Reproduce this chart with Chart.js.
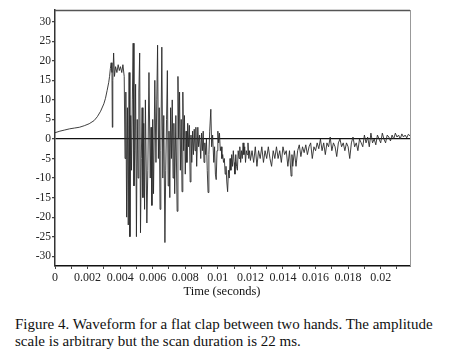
<!DOCTYPE html>
<html>
<head>
<meta charset="utf-8">
<script src="https://cdn.jsdelivr.net/npm/chart.js@4.4.1/dist/chart.umd.min.js"></script>
<style>
  html, body { margin: 0; padding: 0; background: #fff; }
  #wrap { position: relative; width: 450px; height: 364px; overflow: hidden; }
  #chart { position: absolute; left: 0; top: 0; }
  .cap { position: absolute; left: 15px; font-family: "Liberation Serif", "Times New Roman", serif; font-size: 15px; color: #111; white-space: nowrap; line-height: 17px; }
  #xtitle { position: absolute; left: 162px; width: 120px; top: 284px; text-align: center; font-family: "Liberation Serif", "Times New Roman", serif; font-size: 12.5px; color: #111; line-height: 14px; }
</style>
</head>
<body>
<div id="wrap">
  <canvas id="chart" width="450" height="300"></canvas>
  <div id="xtitle">Time (seconds)</div>
  <div class="cap" style="top:316px">Figure 4. Waveform for a flat clap between two hands. The amplitude</div>
  <div class="cap" style="top:333px">scale is arbitrary but the scan duration is 22 ms.</div>
</div>
<script>
// time in milliseconds, amplitude
const timeMs = [
  0, 0.3, 0.6, 0.9, 1.2, 1.5, 1.8, 2.1, 2.4, 2.6, 2.8, 3.0, 3.1, 3.2, 3.3, 3.35, 3.4, 3.45,
  3.5, 3.52, 3.55, 3.6, 3.65, 3.72, 3.8, 3.88, 3.95, 4.02, 4.1, 4.17, 4.25,
  4.3, 4.35, 4.4, 4.45, 4.5, 4.55, 4.6, 4.65, 4.7, 4.75, 4.8, 4.85, 4.9, 4.95, 5.0, 5.05, 5.1, 5.15, 5.2, 5.25,
  5.3, 5.35, 5.4, 5.45, 5.5, 5.55, 5.64, 5.7, 5.77, 5.85, 5.9, 5.95, 6.0, 6.05, 6.13, 6.2, 6.25, 6.3, 6.35, 6.4,
  6.45, 6.5, 6.56, 6.62, 6.68, 6.75, 6.8, 6.85, 6.9, 6.95, 7.0, 7.05, 7.1, 7.15, 7.2, 7.25, 7.3, 7.35, 7.42, 7.5,
  7.55, 7.6, 7.65, 7.7, 7.75, 7.8, 7.85, 7.9, 7.95, 8.0, 8.05, 8.1, 8.15, 8.2, 8.25, 8.3, 8.35, 8.4, 8.45, 8.5,
  8.55, 8.6, 8.65, 8.7, 8.77, 8.82, 8.88, 8.95, 9.0, 9.05, 9.1, 9.15, 9.2, 9.25, 9.3, 9.35, 9.4, 9.45, 9.5, 9.57,
  9.62, 9.68, 9.75, 9.8, 9.85, 9.9, 9.95, 10.0, 10.05, 10.1, 10.15, 10.2, 10.25, 10.3, 10.35, 10.4, 10.45, 10.5,
  10.55, 10.6, 10.65, 10.7, 10.75, 10.8, 10.85, 10.9, 10.95, 11.0, 11.05, 11.1, 11.15, 11.2, 11.25, 11.3, 11.35,
  11.4, 11.45, 11.5, 11.55, 11.6, 11.65, 11.7, 11.75, 11.8, 11.85, 11.9, 11.95, 12.0,
  12.1, 12.2, 12.3, 12.4, 12.5, 12.6, 12.7, 12.8, 12.9, 13.0, 13.1, 13.2, 13.3, 13.4, 13.5, 13.6, 13.7, 13.8,
  13.9, 14.0, 14.1, 14.2, 14.3, 14.4, 14.5, 14.55, 14.6, 14.7, 14.8, 14.9, 15.0, 15.1, 15.2, 15.3, 15.4, 15.5,
  15.6, 15.7, 15.8, 15.9, 16.0, 16.1, 16.2, 16.3, 16.4, 16.5, 16.6, 16.7, 16.8, 16.9, 17.0, 17.1, 17.2, 17.3,
  17.4, 17.5, 17.6, 17.7, 17.8, 17.9, 18.0, 18.1, 18.2, 18.3, 18.4, 18.5, 18.6, 18.7, 18.8, 18.9, 19.0, 19.1,
  19.2, 19.3, 19.4, 19.5, 19.6, 19.7, 19.8, 19.9, 20.0, 20.1, 20.2, 20.3, 20.4, 20.5, 20.6, 20.7, 20.8, 20.9,
  21.0, 21.1, 21.2, 21.3, 21.4, 21.5, 21.6, 21.7, 21.8
];
const amplitude = [
  1.6, 2.0, 2.3, 2.6, 2.8, 3.0, 3.4, 3.9, 4.7, 5.7, 7.1, 9.0, 10.4, 12.4, 14.5, 16, 18, 19.5,
  17, 3, 15, 22, 16, 18.5, 17, 19, 17.5, 18.5, 17, 19, 16,
  -5, 12, -20, 8, -22, 17, -25, 6, -8, 10, 24.5, -12, -3, 14, -25, 5, -10, 12, 22, -24,
  -5, 8, -15, 4, -18, 10, -21.5, -8, 17, -10, 3, -17, 5, -14, 15, -6, 10, 24, -5, 8,
  -18, -3, 23.5, -10, 6, -26.5, -8, 5, 17.5, -12, 2, -15, 8, -5, 10, -10, 4, -14, 6, -18.5,
  16, 0, 12, -8, 5, -13.5, 12, -3, 6, -9, 2, -6, 4, -2, 3.5, -11, 1, -6, 2, -4,
  2.5, -3, 3, -7, 3, -2, 1, -5, 1.5, -3, 2, -6, -1, -4, 0, -8, -13.7, -4, 2, 7.6,
  -2, 1, -6, -2, -9, -10.4, -3, 2, -1, 1.5, -3, -2, -5, -4, -6, -5, -9, -7,
  -11, -13.5, -8, -10, -5, -8, -4, -7, -3, -6, -9, -4, -7, -8, -3, -5, -2,
  -6, -3, -5, -1, -4, -2, -6, -3, -4, -1, -5, -3, -5.5,
  -3, -6, -2, -7, -3, -5, -2, -6, -3, -5, -2, -5, -7, -3, -5, -2, -5, -3,
  -6, -2, -4, -3, -7, -3, -9.5, -4, -7, -3, -7, -3, -1.5, -4.5, -2, -3.5, -1.5, -4,
  -2, -1, -5, -2, -3, -1, -2.5, 0, -3, -1, -4, -1, -2, 0.5, -3, -1, -2, -4.5,
  -1, 0, -2, -1, -3, -1, -2, -5, -1, 0.5, -2, -1, -3, 0, -1, -2, 1, -1,
  0.5, -2, 1.5, -1, 0, -1.5, 1, 0, -1, 1.5, 0, -1, 1, 0.5, -0.5, 1, 0, 1.5,
  0.5, 1, 0, 1.3, 0.5, 1, 0.3, 1.2, 0.8
];
// labels under the x ticks (every 2 ms)
const xTickLabels = ['0', '0.002', '0.004', '0.006', '0.008', '0.01', '0.012', '0.014', '0.016', '0.018', '0.02'];
const yTicks = [30, 25, 20, 15, 10, 5, 0, -5, -10, -15, -20, -25, -30];

const points = timeMs.map((t, i) => ({ x: t, y: amplitude[i] }));

const serif = '"Liberation Serif", "Times New Roman", serif';

// top and right edge of the plot box
const boxPlugin = {
  id: 'box',
  afterDraw(chart) {
    const a = chart.chartArea;
    const c = chart.ctx;
    c.save();
    c.lineWidth = 1.5;
    c.strokeStyle = '#555';
    c.beginPath();
    c.moveTo(a.left, a.top + 0.5);
    c.lineTo(a.right, a.top + 0.5);
    c.stroke();
    c.strokeStyle = '#999';
    c.lineWidth = 1;
    c.beginPath();
    c.moveTo(a.right + 0.5, a.top);
    c.lineTo(a.right + 0.5, a.bottom);
    c.stroke();
    c.restore();
  }
};

new Chart(document.getElementById('chart').getContext('2d'), {
  type: 'scatter',
  data: {
    datasets: [{
      data: points,
      showLine: true,
      borderColor: '#2a2a2a',
      borderWidth: 0.9,
      pointRadius: 0,
      tension: 0
    }]
  },
  options: {
    responsive: false,
    animation: false,
    layout: { padding: { left: 0, top: 10, right: 40, bottom: 0 } },
    plugins: { legend: { display: false }, tooltip: { enabled: false } },
    scales: {
      x: {
        type: 'linear',
        min: 0,
        max: 21.8,
        afterFit: (s) => { s.height = 34; },
        ticks: {
          stepSize: 1,
          includeBounds: false,
          autoSkip: false,
          maxRotation: 0,
          padding: 2,
          color: '#222',
          font: { family: serif, size: 12 },
          callback: (v) => (v % 2 === 0 ? xTickLabels[v / 2] : '')
        },
        grid: { drawOnChartArea: false, tickLength: 3, tickColor: '#444' },
        border: { color: '#111', width: 1.5 }
      },
      y: {
        min: -32.5,
        max: 33,
        afterFit: (s) => { s.width = 55; },
        afterBuildTicks: (s) => { s.ticks = yTicks.map((v) => ({ value: v })); },
        ticks: {
          padding: 1,
          color: '#222',
          font: { family: serif, size: 11.5 }
        },
        grid: {
          tickLength: 3,
          tickColor: '#444',
          lineWidth: 1.2,
          color: (ctx) => (ctx.tick && ctx.tick.value === 0 ? '#111' : 'rgba(0,0,0,0)')
        },
        border: { color: '#333', width: 1.5 }
      }
    }
  },
  plugins: [boxPlugin]
});
</script>
</body>
</html>
